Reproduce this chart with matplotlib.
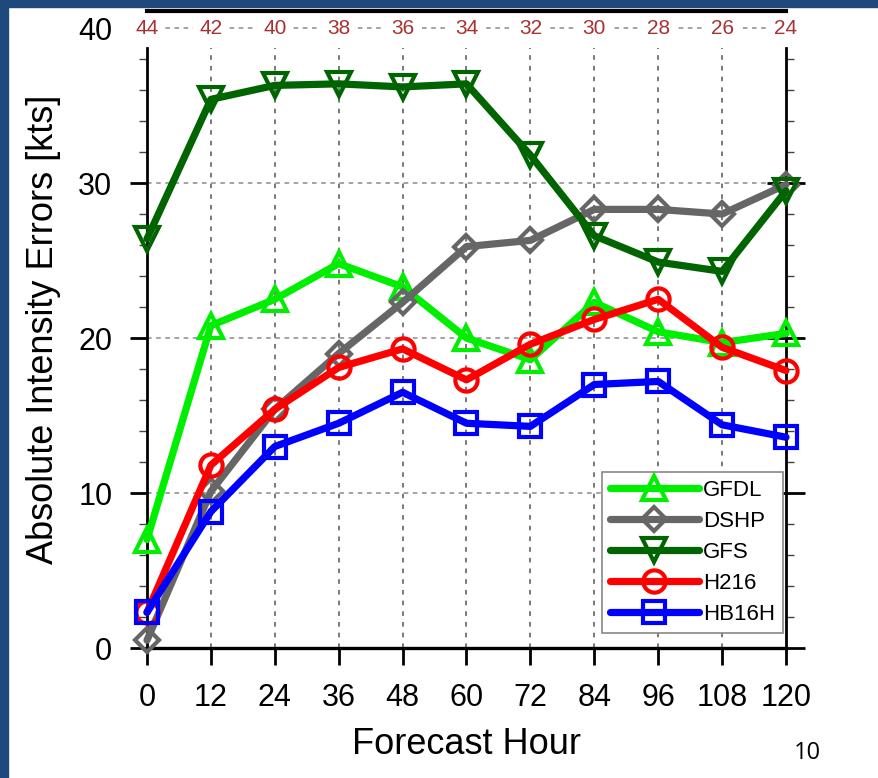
import matplotlib
matplotlib.use("Agg")
import matplotlib.pyplot as plt
from matplotlib.ticker import MultipleLocator
from matplotlib.patches import Rectangle

# ---------------- data ----------------
hours = [0, 12, 24, 36, 48, 60, 72, 84, 96, 108, 120]
case_counts = [44, 42, 40, 38, 36, 34, 32, 30, 28, 26, 24]
gfdl = [7.0, 20.8, 22.5, 24.8, 23.3, 20.0, 18.6, 22.3, 20.4, 19.7, 20.3]
dshp = [0.5, 10.1, 15.4, 19.0, 22.3, 25.9, 26.3, 28.3, 28.3, 28.0, 29.9]
gfs = [26.4, 35.4, 36.3, 36.4, 36.2, 36.4, 31.8, 26.6, 24.9, 24.3, 29.5]
h216 = [2.3, 11.8, 15.4, 18.1, 19.3, 17.3, 19.6, 21.2, 22.5, 19.4, 17.9]
hb16h = [2.3, 8.8, 13.0, 14.5, 16.5, 14.5, 14.3, 17.0, 17.2, 14.4, 13.6]
y_major = [0, 10, 20, 30, 40]

series = [
    ("GFDL", gfdl, "#00ee00", "^", 17),
    ("DSHP", dshp, "#666666", "D", 12.5),
    ("GFS", gfs, "#006400", "v", 17),
    ("H216", h216, "#ff0000", "o", 16),
    ("HB16H", hb16h, "#0000ff", "s", 16),
]

narrow = ["Liberation Sans Narrow", "Liberation Sans", "DejaVu Sans"]
W, H = 879, 778
fig = plt.figure(figsize=(W / 100, H / 100), dpi=100)

# page border (slide frame)
fig.patches.append(Rectangle((0, 0), 8 / W, 1, transform=fig.transFigure,
                             color="#1f497d", zorder=0))
fig.patches.append(Rectangle((0, 1 - 7 / H), 1, 7 / H, transform=fig.transFigure,
                             color="#1f497d", zorder=0))

ax_l, ax_r = 147 / W, 786 / W
ax_b, ax_t = 1 - 648 / H, 1 - 11 / H
ax = fig.add_axes([ax_l, ax_b, ax_r - ax_l, ax_t - ax_b])
ax.set_xlim(0, 120)
ax.set_ylim(0, 41.1)
spine_top = 38.7

# grid
ax.hlines([v for v in y_major if v > 0], 0, 120, colors="#8a8a8a",
          linestyles=(0, (3, 3)), linewidth=1.1, zorder=1)
ax.vlines(hours[1:-1], 0, spine_top, colors="#555555",
          linestyles=(0, (3, 4)), linewidth=1.1, zorder=1)

for name, vals, col, mk, ms in series:
    ax.plot(hours, vals, color=col, linewidth=5.2, marker=mk, markersize=ms,
            markerfacecolor="none", markeredgecolor=col, markeredgewidth=3.0,
            label=name, clip_on=False, zorder=3, solid_capstyle="round",
            solid_joinstyle="round")

# spines
for s in ["left", "right"]:
    ax.spines[s].set_bounds(0, spine_top)
    ax.spines[s].set_linewidth(2.0)
ax.spines["bottom"].set_linewidth(2.4)
ax.spines["top"].set_linewidth(3.0)
ax.spines["top"].set_zorder(7)

ax.set_xticks(hours)
ax.set_xticklabels([str(h) for h in hours], fontsize=22, family=narrow)
ax.tick_params(axis="x", which="major", direction="out", length=12, width=2.0,
               pad=13, top=False)

ax.set_yticks(y_major)
ax.set_yticklabels([str(v) for v in y_major], fontsize=22, family=narrow)
ax.yaxis.set_minor_locator(MultipleLocator(2))
ax.tick_params(axis="y", which="major", left=True, right=True, direction="out",
               length=12, width=2.0, pad=13)
ax.tick_params(axis="y", which="minor", left=True, right=True, direction="out",
               length=6, width=1.0, color="#444444")
for t in ax.yaxis.get_major_ticks():
    t.tick2line.set_marker("_")
    t.tick2line.set_markersize(28)
ax.yaxis.get_major_ticks()[-1].tick1line.set_visible(False)
ax.yaxis.get_major_ticks()[-1].tick2line.set_visible(False)

# top case-count labels
for h, c in zip(hours, case_counts):
    ax.text(h, 40, str(c), ha="center", va="center", fontsize=15,
            color="#a83232", family=["Liberation Sans", "DejaVu Sans"],
            bbox=dict(boxstyle="square,pad=0.3", fc="white", ec="none"),
            zorder=4, clip_on=False)

ax.set_xlabel("Forecast Hour", fontsize=26, family=narrow, labelpad=10)
ax.set_ylabel("Absolute Intensity Errors [kts]", fontsize=26, family=narrow,
              labelpad=12)

leg = ax.legend(loc="lower right", bbox_to_anchor=(783 / W, 1 - 633 / H),
                bbox_transform=fig.transFigure, prop={"family": narrow, "size": 16},
                handlelength=4.0, handletextpad=0.2, labelspacing=0.45,
                borderpad=0.35, borderaxespad=0, fancybox=False, framealpha=1,
                edgecolor="#888888", markerscale=1.0)
leg.get_frame().set_linewidth(1.2)
leg.set_zorder(5)

fig.text(807 / W, 1 - 753 / H, "10", ha="center", va="center", fontsize=17,
         family=["Open Sans", "DejaVu Sans"], color="black")

fig.savefig("out.png", dpi=100)
